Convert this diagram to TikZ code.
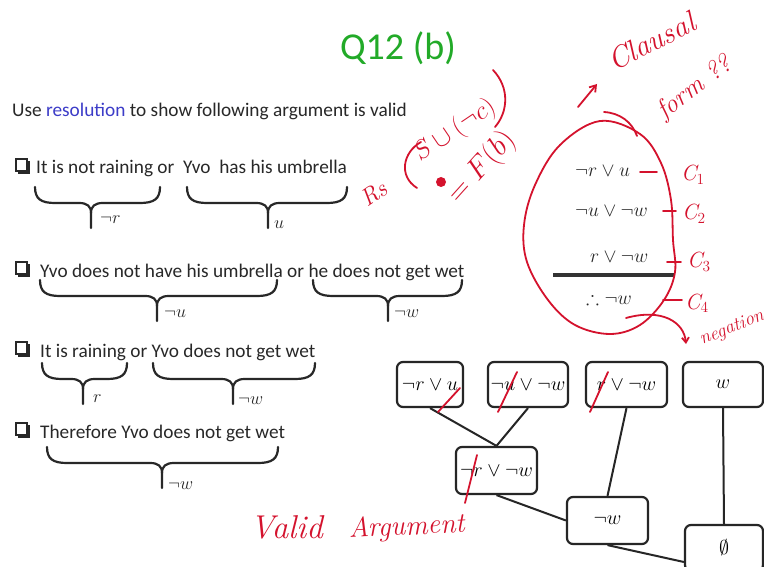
\RequirePackage{fix-cm}
\documentclass[tikz,border=0pt]{standalone}
\usepackage{amssymb}
\usepackage{fontspec}
\setsansfont{Carlito}
\usetikzlibrary{arrows.meta,calc}
\definecolor{slidegreen}{RGB}{34,170,40}
\definecolor{resblue}{RGB}{60,60,200}
\definecolor{inkred}{RGB}{212,18,45}
\definecolor{slidetext}{RGB}{40,40,40}
\newcommand\slidebrace[4]{%
  \draw[brc] (#1,#4) .. controls (#1,#4+12) and (#1+6,#4+16) .. (#1+20,#4+16) -- (#3-12,#4+16)
     .. controls (#3-4,#4+16) and (#3,#4+19) .. (#3,#4+26) -- (#3,#4+41);
  \draw[brc] (#2,#4) .. controls (#2,#4+12) and (#2-6,#4+16) .. (#2-20,#4+16) -- (#3+12,#4+16)
     .. controls (#3+4,#4+16) and (#3,#4+19) .. (#3,#4+26);}
\newcommand\checkbullet[2]{%
  \draw[line width=1.4pt, draw=slidetext] (#1,#2-15) rectangle (#1+11,#2-3);
  \fill[slidetext] (#1+2,#2-3) rectangle (#1+13.5,#2);
  \fill[slidetext] (#1+11,#2-13) rectangle (#1+13.5,#2);}
\begin{document}
\begin{tikzpicture}[x=1pt,y=-1pt,
  slidetxt/.style={font=\sffamily\fontsize{19.3}{23}\selectfont, text=slidetext, inner sep=0, anchor=base west},
  brc/.style={line width=2.2pt, draw=slidetext, line cap=round},
  bracelabel/.style={font=\fontsize{18}{22}\selectfont, text=slidetext, inner sep=0, anchor=base west},
  clausebox/.style={draw=black!85, line width=2.2pt, rounded corners=6pt, minimum width=80pt, minimum height=45pt, font=\fontsize{20}{24}\selectfont, inner sep=0},
  listtxt/.style={font=\fontsize{19.5}{23}\selectfont, text=slidetext, inner sep=0, anchor=base west},
  edge/.style={line width=2pt, draw=black!85},
  ink/.style={draw=inkred, line width=1.8pt, line cap=round, line join=round},
  hand/.style={text=inkred, font=\rmfamily\itshape\fontsize{#1}{#1}\selectfont, inner sep=0, anchor=base west},
  hand/.default=24
]
\useasboundingbox (0,0) rectangle (764,567);
\clip (0,0) rectangle (764,567);
\fill[white] (0,0) rectangle (764,567);

% title and intro
\node[font=\sffamily\fontsize{38}{44}\selectfont, text=slidegreen, inner sep=0, anchor=base] (title) at (398,60) {Q12 (b)};
\node[slidetxt] (intro) at (12,117) {Use \textcolor{resblue}{resolution} to show following argument is valid};

% item 1
\checkbullet{16}{174}
\node[slidetxt] (t1) at (36,174) {It is not raining or~ Yvo~ has his umbrella};
\slidebrace{35}{160}{91}{187}
\node[bracelabel] (l1a) at (100,224) {$\neg r$};
\slidebrace{187}{347}{268}{187}
\node[bracelabel] (l1b) at (274,229) {$u$};

% item 2
\checkbullet{16}{277}
\node[slidetxt] (t2) at (40,277) {Yvo does not have his umbrella or he does not get wet};
\slidebrace{40}{277}{157}{280}
\node[bracelabel] (l2a) at (164,317) {$\neg u$};
\slidebrace{313}{462}{388}{280}
\node[bracelabel] (l2b) at (394,317) {$\neg w$};

% item 3
\checkbullet{16}{357}
\node[slidetxt] (t3) at (40,357) {It is raining or Yvo does not get wet};
\slidebrace{42}{127}{83}{363}
\node[bracelabel] (l3a) at (93,402) {$r$};
\slidebrace{153}{315}{233}{363}
\node[bracelabel] (l3b) at (238,404) {$\neg w$};

% item 4
\checkbullet{16}{438}
\node[slidetxt] (t4) at (40,438) {Therefore Yvo does not get wet};
\slidebrace{47}{278}{162}{447}
\node[bracelabel] (l4) at (168,489) {$\neg w$};

% clause list
\node[listtxt] (c1) at (575,177) {$\neg r\vee u$};
\node[listtxt] (c2) at (575,217) {$\neg u\vee\neg w$};
\node[listtxt] (c3) at (590,262) {$r\vee\neg w$};
\node[listtxt] (c4) at (586,305) {$\therefore\neg w$};
\draw[line width=3pt, draw=black!80] (553,275) -- (675,275);

% resolution tree
\node[clausebox, minimum width=66pt] (b1) at (430,384.5) {$\neg r\vee u$};
\node[clausebox] (b2) at (528,384.5) {$\neg u\vee\neg w$};
\node[clausebox, minimum width=81pt] (b3) at (626.5,384.5) {$r\vee\neg w$};
\node[clausebox] (b4) at (723,384.5) {$w$};
\node[clausebox, minimum width=81pt, minimum height=47pt] (b5) at (496.5,470.5) {$\neg r\vee\neg w$};
\node[clausebox, minimum width=81pt, minimum height=47pt] (b6) at (607.5,520.5) {$\neg w$};
\node[clausebox, minimum width=78pt, minimum height=46pt] (b7) at (724,548) {$\emptyset$};
\draw[edge] (b1.south) -- (b5.north);
\draw[edge] (b2.south) -- (b5.north);
\draw[edge] (b3.south) -- (b6.north);
\draw[edge] (b5.south) -- (b6.west);
\draw[edge] (b4.south) -- (b7.north);
\draw[edge] (b6.south) -- ($(b7.west)+(0,14)$);

% red cross-outs
\draw[ink] (438,412) -- (460,388);
\draw[ink] (498,412) -- (517,372);
\draw[ink] (590,412) -- (608,372);
\draw[ink] (465,503) -- (477,455);

% red ellipse round the clauses
\draw[ink] plot[smooth cycle, tension=0.6] coordinates {(600,121) (640,134) (661,163) (671,200) (673,240) (675,272) (664,300) (640,325) (610,334) (575,325) (548,300) (527,262) (524,225) (535,185) (560,145)};
\draw[ink] (604,112) .. controls (620,113) and (632,122) .. (637,136);

% clause labels
\draw[ink] (640,172) -- (657,172);
\node[hand=22] (g1) at (681,181) {C$_1$};
\draw[ink] (663,211) -- (676,211);
\node[hand=22] (g2) at (682,220) {C$_2$};
\draw[ink] (667,262) -- (681,262);
\node[hand=22] (g3) at (687,268) {C$_3$};
\draw[ink] (663,300) -- (682,300);
\node[hand=22] (g4) at (685,309) {C$_4$};

% clausal form note
\draw[ink,-{Straight Barb[length=6pt,width=8pt]}] (578,107) -- (597,84);
\node[hand=30, rotate=27] (clausal) at (614,72) {Clausal};
\node[hand=26, rotate=37] (form) at (664,120) {form ??};

% Res(S u (not c)) = F(b)
\node[hand=24, rotate=35] (res) at (367,208) {Rs};
\draw[ink] (421,142) .. controls (403,152) and (398,176) .. (417,188);
\node[hand=26, rotate=34] (set) at (420,162) {$S\cup(\neg c)$};
\draw[ink] (493,70) .. controls (510,88) and (508,112) .. (495,127);
\node[hand=30, rotate=48] (fb) at (458,205) {$=F(b)$};
\fill[inkred] (441,182) circle (5);

% negation arrow
\draw[ink,-{Straight Barb[length=5pt,width=7pt]}] (626,318) .. controls (662,308) and (684,322) .. (686,344);
\node[hand=19, rotate=22] (neg) at (702,345) {negation};

% verdict
\node[hand=33] (valid) at (250,538) {Valid};
\node[hand=28, rotate=3] (argument) at (349,538) {Argument};
\end{tikzpicture}
\end{document}
